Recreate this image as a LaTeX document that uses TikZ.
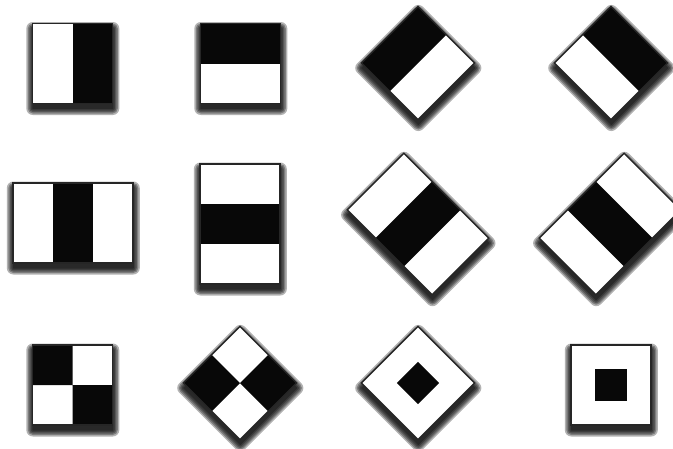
\documentclass[tikz,border=0pt]{standalone}
\tikzset{x=1pt,y=-1pt,
  tileedge/.style={draw=black!85, line width=1.4pt, line join=miter},
  tileblack/.style={fill=black!97}}
\newcommand\tile[5]{%
 \begin{scope}[shift={(#1,#2)}]
  \begin{scope}[shift={(0.3,5)}, rotate=#3]
   \foreach \w in {13,10,7,4,1}{
     \begin{scope}[transparency group, opacity=0.3]
      \filldraw[line width=\w pt, line join=round] #4;
     \end{scope}}
  \end{scope}
  \begin{scope}[rotate=#3]
   \fill[white] #4;
   \fill[tileblack] #5;
   \draw[tileedge] #4;
  \end{scope}
 \end{scope}}
\begin{document}
\begin{tikzpicture}
\useasboundingbox (0,0) rectangle (673,448);
\clip (0,0) rectangle (673,448);
\fill[white] (0,0) rectangle (673,448);
% row 1
\tile{72.5}{63.5}{0}{(-40,-40) rectangle (40,40)}{(0,-40) rectangle (40,40)}
\tile{240.5}{63.5}{0}{(-40,-40) rectangle (40,40)}{(-40,-40) rectangle (40,0)}
\tile{418}{63}{45}{(-40,-40) rectangle (40,40)}{(-40,-40) rectangle (40,0)}
\tile{611}{63}{-45}{(-40,-40) rectangle (40,40)}{(-40,-40) rectangle (40,0)}
% row 2
\tile{73}{223}{0}{(-60,-40) rectangle (60,40)}{(-20,-40) rectangle (20,40)}
\tile{240}{224}{0}{(-40,-60) rectangle (40,60)}{(-40,-20) rectangle (40,20)}
\tile{418}{224}{-45}{(-60,-40) rectangle (60,40)}{(-20,-40) rectangle (20,40)}
\tile{610}{224}{45}{(-60,-40) rectangle (60,40)}{(-20,-40) rectangle (20,40)}
% row 3
\tile{72.5}{385}{0}{(-40,-40) rectangle (40,40)}{(-40,-40) rectangle (0,0) (0,0) rectangle (40,40)}
\tile{240}{383}{45}{(-40,-40) rectangle (40,40)}{(-40,-40) rectangle (0,0) (0,0) rectangle (40,40)}
\tile{418}{383}{-45}{(-40,-40) rectangle (40,40)}{(-15,-15) rectangle (15,15)}
\tile{611}{385}{0}{(-40,-40) rectangle (40,40)}{(-16,-16) rectangle (16,16)}
\end{tikzpicture}
\end{document}
